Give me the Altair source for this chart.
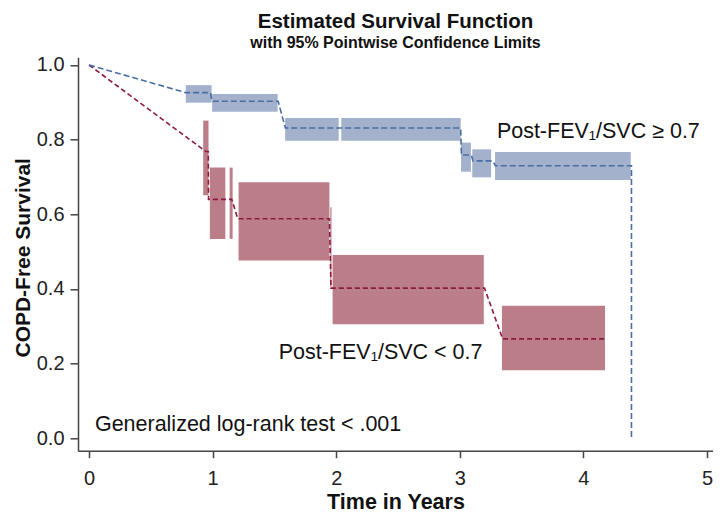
import altair as alt
import pandas as pd

FONT = "Liberation Sans"

# Survival curves (time in years, COPD-free survival)
blue_time = [0.0, 0.783, 0.983, 0.994, 1.530, 1.589, 3.007, 3.013, 3.093, 3.107, 3.267, 3.288, 4.389, 4.389]
blue_surv = [1.0, 0.926, 0.926, 0.903, 0.903, 0.831, 0.831, 0.759, 0.759, 0.743, 0.743, 0.730, 0.730, 0.0]

red_time = [0.0, 0.946, 0.965, 0.967, 1.155, 1.204, 1.945, 1.958, 3.200, 3.347, 4.175]
red_surv = [1.0, 0.768, 0.768, 0.640, 0.640, 0.588, 0.588, 0.402, 0.402, 0.266, 0.266]

# 95% pointwise confidence limits (rectangles)
b_x1 = [0.783, 0.996, 1.587, 2.041, 3.010, 3.101, 3.285]
b_x2 = [0.992, 1.526, 2.020, 3.007, 3.090, 3.253, 4.383]
b_lo = [0.899, 0.875, 0.797, 0.797, 0.714, 0.699, 0.692]
b_hi = [0.946, 0.922, 0.858, 0.858, 0.792, 0.774, 0.767]

r_x1 = [0.924, 0.978, 1.138, 1.210, 1.952, 1.971, 3.341]
r_x2 = [0.967, 1.103, 1.162, 1.945, 1.962, 3.194, 4.175]
r_lo = [0.651, 0.534, 0.534, 0.476, 0.403, 0.305, 0.182]
r_hi = [0.851, 0.725, 0.725, 0.686, 0.619, 0.491, 0.355]

x_ticks = [0, 1, 2, 3, 4, 5]
y_ticks = [0.0, 0.2, 0.4, 0.6, 0.8, 1.0]

labels = ["Post-FEV\u2081/SVC \u2265 0.7", "Post-FEV\u2081/SVC < 0.7", "Generalized log-rank test < .001"]
label_x = [3.30, 1.535, 0.048]
label_y = [0.804, 0.212, 0.018]

blue_line = pd.DataFrame({"t": blue_time, "s": blue_surv, "i": range(len(blue_time))})
red_line = pd.DataFrame({"t": red_time, "s": red_surv, "i": range(len(red_time))})
blue_band = pd.DataFrame({"x1": b_x1, "x2": b_x2, "lo": b_lo, "hi": b_hi})
red_band = pd.DataFrame({"x1": r_x1, "x2": r_x2, "lo": r_lo, "hi": r_hi})
txt = pd.DataFrame({"x": label_x, "y": label_y, "label": labels})

xs = alt.Scale(domain=[-0.089, 5.0485], nice=False, zero=False)
ys = alt.Scale(domain=[-0.0335, 1.0206], nice=False, zero=False)

x_axis = alt.Axis(values=x_ticks, format="d", title="Time in Years", grid=False,
                  domainColor="#444", domainWidth=1.5, tickColor="#444", tickWidth=1.5, tickSize=7,
                  labelFont=FONT, labelFontSize=20, labelColor="#222", labelPadding=11,
                  titleFont=FONT, titleFontSize=21.5, titleFontWeight="bold", titleColor="#111",
                  titlePadding=2.5)
y_axis = alt.Axis(values=y_ticks, format=".1f", title="COPD-Free Survival", grid=False,
                  domainColor="#444", domainWidth=1.5, tickColor="#444", tickWidth=1.5, tickSize=8,
                  labelFont=FONT, labelFontSize=20, labelColor="#222", labelPadding=6,
                  titleFont=FONT, titleFontSize=21, titleFontWeight="bold", titleColor="#111",
                  titlePadding=3, titleY=200)

red_rects = alt.Chart(red_band).mark_rect(color="#bb7e88").encode(
    x=alt.X("x1:Q", scale=xs, axis=x_axis), x2="x2:Q",
    y=alt.Y("lo:Q", scale=ys, axis=y_axis), y2="hi:Q")
blue_rects = alt.Chart(blue_band).mark_rect(color="#a4b1cd").encode(
    x=alt.X("x1:Q", scale=xs), x2="x2:Q",
    y=alt.Y("lo:Q", scale=ys), y2="hi:Q")
red_l = alt.Chart(red_line).mark_line(color="#8c1a40", strokeWidth=1.6, strokeDash=[5, 3]).encode(
    x=alt.X("t:Q", scale=xs), y=alt.Y("s:Q", scale=ys), order="i:Q")
blue_l = alt.Chart(blue_line).mark_line(color="#4a6ea3", strokeWidth=1.6, strokeDash=[6, 3]).encode(
    x=alt.X("t:Q", scale=xs), y=alt.Y("s:Q", scale=ys), order="i:Q")
texts = alt.Chart(txt).mark_text(align="left", baseline="alphabetic", font=FONT, fontSize=21.5,
                                 color="#111").encode(
    x=alt.X("x:Q", scale=xs), y=alt.Y("y:Q", scale=ys), text="label:N")

chart = alt.layer(red_rects, blue_rects, red_l, blue_l, texts).properties(
    width=635, height=393.4,
    autosize=alt.AutoSizeParams(type="none"),
    padding={"left": 70, "top": 49.3, "right": 0, "bottom": 62},
    title=alt.TitleParams(text="Estimated Survival Function",
                          subtitle="with 95% Pointwise Confidence Limits",
                          anchor="middle", font=FONT, fontSize=20.5, fontWeight="bold", color="#111",
                          subtitleFont=FONT, subtitleFontSize=16, subtitleFontWeight="bold",
                          subtitleColor="#111", subtitlePadding=2, offset=4),
).configure_view(stroke=None)

chart.save("out.html", embed_options={"renderer": "svg", "actions": False})
